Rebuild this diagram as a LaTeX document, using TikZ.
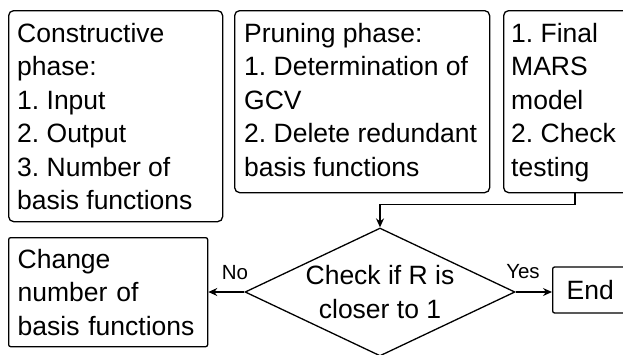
\documentclass[tikz,border=0pt]{standalone}
\usepackage{fontspec}
\setmainfont{Liberation Sans}
\usetikzlibrary{shapes.geometric,arrows.meta,calc}
\newcommand{\bigtext}{\fontsize{26.5pt}{33.4pt}\selectfont\frenchspacing}
\tikzset{
  rbox/.style={draw, line width=1.3pt, rounded corners=5pt, inner sep=0pt, anchor=north west},
  sbox/.style={draw, line width=1.3pt, rounded corners=2pt, inner xsep=9pt, inner ysep=0pt, align=left, font=\bigtext},
  btext/.style={anchor=north west, inner sep=0pt, align=left, font=\bigtext},
  decision/.style={draw, diamond, line width=1.3pt, inner sep=0pt, aspect=2.1, minimum width=270pt, minimum height=128pt, align=center, font=\bigtext},
  conn/.style={draw, line width=1.3pt, -{Stealth[length=9pt,width=8pt,inset=3pt]}},
  lbl/.style={inner sep=0pt, font=\fontsize{20.5pt}{23pt}\selectfont}
}
\begin{document}
\begin{tikzpicture}[x=1pt,y=-1pt]
\useasboundingbox (0,0) rectangle (623,354);
\clip (0,0) rectangle (623,354);
% top boxes
\node[rbox, minimum width=214pt, minimum height=211pt] (b1) at (8,10) {};
\node[btext] (t1) at (17,23) {Constructive\\phase:\\1. Input\\2. Output\\3. Number of\\basis functions};
\node[rbox, minimum width=255pt, minimum height=182pt] (b2) at (234,10) {};
\node[btext] (t2) at (244,23) {Pruning phase:\\1. Determination of\\GCV\\2. Delete redundant\\basis functions};
\node[rbox, minimum width=160pt, minimum height=182pt] (b3) at (503,10) {};
\node[btext] (t3) at (511,23) {1. Final\\MARS\\model\\2. Check\\testing};
% decision
\node[decision] (d) at (380,292) {Check if R is\\closer to 1};
% change box
\node[sbox, anchor=north west, minimum width=199pt, minimum height=109pt, text width=181pt] (chg) at (8,237) {Change\\number of\\basis functions};
% end box
\node[sbox, anchor=west, inner xsep=14pt, minimum height=46pt, text width=80pt] (end) at (552,290) {End};
% connectors
\coordinate (c3) at ($(b3.south west)+(72,0)$);
\draw[conn] (c3) -- ++(0,11) -| (d.north);
\draw[conn] (d.west) -- (chg.east |- d.west);
\draw[conn] (d.east) -- (end.west |- d.east);
% labels
\node[lbl] (no) at (235,273) {No};
\node[lbl] (yes) at (523,272) {Yes};
\end{tikzpicture}
\end{document}
